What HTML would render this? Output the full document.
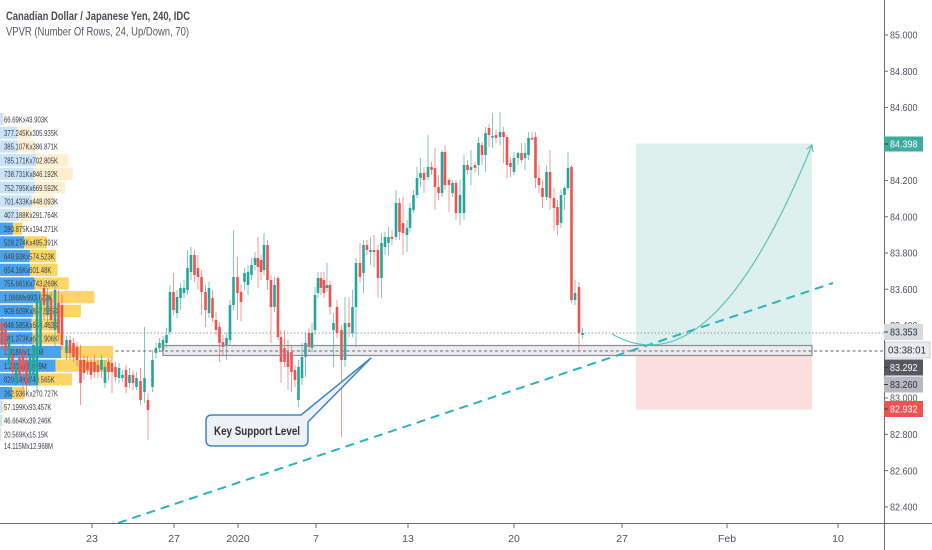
<!DOCTYPE html>
<html><head><meta charset="utf-8"><style>
html,body{margin:0;padding:0;background:#fff;overflow:hidden}
svg{display:block}
</style></head><body>
<svg width="932" height="550" viewBox="0 0 932 550" font-family="'Liberation Sans', sans-serif">
<rect width="932" height="550" fill="#fff"/>

<!-- position boxes -->
<rect x="636" y="143.5" width="176" height="202" fill="#ddf0ed"/>
<rect x="636" y="355.5" width="176" height="54" fill="#fbdedd"/>

<!-- price lines -->
<line x1="0" y1="333" x2="884" y2="333" stroke="#9598a1" stroke-width="1" stroke-dasharray="1.5,2"/>
<line x1="0" y1="351" x2="884" y2="351" stroke="#9598a1" stroke-width="1.5" stroke-dasharray="3,2.5"/>

<!-- volume profile bars -->
<g>
<rect x="0" y="113" width="3.05" height="12.2" fill="#c9e3f8"/><rect x="3.05" y="113" width="2.05" height="12.2" fill="#fef0cf"/>
<rect x="0" y="126.7" width="17.3" height="12.2" fill="#c9e3f8"/><rect x="17.3" y="126.7" width="14" height="12.2" fill="#fef0cf"/>
<rect x="0" y="140.4" width="17.6" height="12.2" fill="#c9e3f8"/><rect x="17.6" y="140.4" width="17.8" height="12.2" fill="#fef0cf"/>
<rect x="0" y="154.1" width="36" height="12.2" fill="#c9e3f8"/><rect x="36" y="154.1" width="32.1" height="12.2" fill="#fef0cf"/>
<rect x="0" y="167.8" width="33.8" height="12.2" fill="#c9e3f8"/><rect x="33.8" y="167.8" width="38.8" height="12.2" fill="#fef0cf"/>
<rect x="0" y="181.5" width="34.5" height="12.2" fill="#c9e3f8"/><rect x="34.5" y="181.5" width="30.6" height="12.2" fill="#fef0cf"/>
<rect x="0" y="195.2" width="32.1" height="12.2" fill="#c9e3f8"/><rect x="32.1" y="195.2" width="20.5" height="12.2" fill="#fef0cf"/>
<rect x="0" y="208.9" width="18.6" height="12.2" fill="#c9e3f8"/><rect x="18.6" y="208.9" width="13.4" height="12.2" fill="#fef0cf"/>
<rect x="0" y="222.6" width="12.9" height="12.2" fill="#4aa3ea"/><rect x="12.9" y="222.6" width="8.9" height="12.2" fill="#fdd567"/>
<rect x="0" y="236.3" width="24.2" height="12.2" fill="#4aa3ea"/><rect x="24.2" y="236.3" width="22.7" height="12.2" fill="#fdd567"/>
<rect x="0" y="250" width="29.8" height="12.2" fill="#4aa3ea"/><rect x="29.8" y="250" width="26.3" height="12.2" fill="#fdd567"/>
<rect x="0" y="263.7" width="30" height="12.2" fill="#4aa3ea"/><rect x="30" y="263.7" width="27.5" height="12.2" fill="#fdd567"/>
<rect x="0" y="277.4" width="34.6" height="12.2" fill="#4aa3ea"/><rect x="34.6" y="277.4" width="34.1" height="12.2" fill="#fdd567"/>
<rect x="0" y="291.1" width="40" height="12.2" fill="#4aa3ea"/><rect x="40" y="291.1" width="54.3" height="12.2" fill="#fdd567"/>
<rect x="0" y="304.8" width="33" height="12.2" fill="#4aa3ea"/><rect x="33" y="304.8" width="47.9" height="12.2" fill="#fdd567"/>
<rect x="0" y="318.5" width="31.5" height="12.2" fill="#4aa3ea"/><rect x="31.5" y="318.5" width="28.4" height="12.2" fill="#fdd567"/>
<rect x="0" y="332.2" width="32.5" height="12.2" fill="#4aa3ea"/><rect x="32.5" y="332.2" width="29.5" height="12.2" fill="#fdd567"/>
<rect x="0" y="345.9" width="61" height="12.2" fill="#4aa3ea"/><rect x="61" y="345.9" width="52" height="12.2" fill="#fdd567"/>
<rect x="0" y="359.6" width="55.5" height="12.2" fill="#4aa3ea"/><rect x="55.5" y="359.6" width="56" height="12.2" fill="#fdd567"/>
<rect x="0" y="373.3" width="37.6" height="12.2" fill="#4aa3ea"/><rect x="37.6" y="373.3" width="34.3" height="12.2" fill="#fdd567"/>
<rect x="0" y="387" width="12" height="12.2" fill="#4aa3ea"/><rect x="12" y="387" width="12.4" height="12.2" fill="#fdd567"/>
<rect x="0" y="400.7" width="2.6" height="12.2" fill="#c9e3f8"/><rect x="2.6" y="400.7" width="4.3" height="12.2" fill="#fef0cf"/>
<rect x="0" y="414.4" width="2.1" height="12.2" fill="#c9e3f8"/><rect x="2.1" y="414.4" width="1.8" height="12.2" fill="#fef0cf"/>
<rect x="0" y="428.1" width="0.9" height="12.2" fill="#c9e3f8"/><rect x="0.9" y="428.1" width="0.7" height="12.2" fill="#fef0cf"/>
</g>

<!-- volume profile labels -->
<g transform="scale(0.72 1)" font-size="8.3" fill="#3a3d46">
<text x="5.5" y="122.3">66.69Kx43.903K</text>
<text x="5.5" y="136">377.245Kx305.935K</text>
<text x="5.5" y="149.7">385.107Kx386.871K</text>
<text x="5.5" y="163.4">785.171Kx702.805K</text>
<text x="5.5" y="177.1">738.731Kx846.192K</text>
<text x="5.5" y="190.8">752.795Kx669.592K</text>
<text x="5.5" y="204.5">701.433Kx448.093K</text>
<text x="5.5" y="218.2">407.188Kx291.764K</text>
<text x="5.5" y="231.9">280.875Kx194.271K</text>
<text x="5.5" y="245.6">528.274Kx495.391K</text>
<text x="5.5" y="259.3">649.93Kx574.523K</text>
<text x="5.5" y="273">654.16Kx601.48K</text>
<text x="5.5" y="286.7">755.661Kx743.269K</text>
<text x="5.5" y="300.4">1.066Mx993.632K</text>
<text x="5.5" y="314.1">909.609Kx857.585K</text>
<text x="5.5" y="327.8">648.585Kx658.463K</text>
<text x="5.5" y="341.5">681.373Kx671.906K</text>
<text x="5.5" y="355.2">1.318Mx1.15M</text>
<text x="5.5" y="368.9">1.241Mx1.099M</text>
<text x="5.5" y="382.6">820.14Kx749.565K</text>
<text x="5.5" y="396.3">262.936Kx270.727K</text>
<text x="5.5" y="410">57.199Kx93.457K</text>
<text x="5.5" y="423.7">46.664Kx39.246K</text>
<text x="5.5" y="437.4">20.569Kx15.15K</text>
<text x="5.5" y="449">14.115Mx12.968M</text>
</g>

<!-- candles: wicks -->
<path stroke="#26a69a" stroke-opacity="0.6" stroke-width="1" fill="none" d="M9 335V368M16 360V386M30 350V386M33.5 340V380M37 293V393M40.5 292V355M47.5 288V325M55 285V347M66.5 336V360M101.5 355V378M105 360V388M119 363V383M122.5 370V382M129.5 368V388M136.5 372V390M144.5 327V403M152.5 350V392M156 343V358M159.5 338V352M163 336V355M166.5 328V348M170 285V335M177 290V318M180.5 283V310M184 280V298M187.5 250V295M191 247V280M209 282V318M226.5 333V360M230 300V345M233.5 230V310M244.5 268V290M248 265V295M251.5 258V280M255 252V270M264 233V275M274.5 277V312M298.5 360V407M302 343V385M305.5 333V377M312 323V352M315 287V335M318 272V298M327 263V292M333.5 313V367M345 297V367M352.5 290V337M356 258V347M363.5 240V293M370.5 237V265M381.5 233V298M385 232V255M388.5 227V255M396 190V240M407 220V252M410 203V232M413.5 190V213M417 167V198M420.5 158V187M428 135V180M442 150V197M452.5 180V197M460 180V225M464 155V220M471 150V185M478.5 137V175M485.5 127V172M492.5 113V148M500 112V145M514 152V175M518 152V165M525 143V170M528.5 132V160M546.5 165V200M561 190V228M564.5 186V210M568 152V190M575 280V305M582.5 328V339"/>
<path stroke="#ef5350" stroke-opacity="0.6" stroke-width="1" fill="none" d="M2 315V350M5.5 322V355M12.5 350V378M19.5 350V380M23 345V390M26.5 352V392M44 282V320M51 292V330M58.5 290V340M62 295V350M70 336V360M73.5 338V362M77 342V366M80.5 345V405M84 355V380M87.5 356V375M91 358V380M94.5 355V378M98 360V378M108.5 358V380M112 357V393M115.5 362V382M126 365V393M133 370V390M140.5 368V405M148 393V440M173.5 273V315M194.5 250V282M198 255V290M201.5 270V315M205.5 285V327M212.5 290V322M216 312V335M219.5 322V362M223 335V355M237.5 257V320M241 285V321M258 237V288M261 255V280M267.5 240V290M271 275V343M278 276V340M281 330V383M284.5 330V367M288 340V390M291.5 345V392M295 365V387M309 328V352M321 272V295M324 272V298M330 281V315M337 300V338M341.5 325V437M349 297V337M360 243V283M367 240V255M374 235V267M378 245V298M392 230V245M399.5 198V240M403 197V255M424 167V193M431.5 162V175M435 148V210M438.5 175V200M445 145V190M449 178V212M456 180V220M467.5 160V175M475 162V173M482 142V165M489 124V147M496 130V143M503.5 127V163M507 135V178M510.5 157V177M521.5 143V163M532 132V140M535.5 132V188M539 165V193M542.5 180V208M550 150V210M554 188V230M557.5 200V235M571.5 165V303M579 282V350"/>

<!-- candles: bodies -->
<path fill="#26a69a" d="M7.7 340h2.6v25h-2.6zM14.7 365h2.6v17h-2.6zM28.7 355h2.6v25h-2.6zM32.2 345h2.6v30h-2.6zM35.7 300h2.6v85h-2.6zM39.2 300h2.6v50h-2.6zM46.2 295h2.6v20h-2.6zM53.7 290h2.6v40h-2.6zM65.2 340h2.6v13h-2.6zM100.2 360h2.6v10h-2.6zM103.7 367h2.6v16h-2.6zM117.7 368h2.6v10h-2.6zM121.2 375h2.6v3h-2.6zM128.2 375h2.6v8h-2.6zM135.2 378h2.6v9h-2.6zM143.2 378h2.6v14h-2.6zM151.2 360h2.6v27h-2.6zM154.7 348h2.6v5h-2.6zM158.2 343h2.6v5h-2.6zM161.7 340h2.6v10h-2.6zM165.2 335h2.6v8h-2.6zM168.7 292h2.6v40h-2.6zM175.7 297h2.6v16h-2.6zM179.2 288h2.6v10h-2.6zM182.7 288h2.6v5h-2.6zM186.2 268h2.6v22h-2.6zM189.7 255h2.6v17h-2.6zM207.7 288h2.6v25h-2.6zM225.2 338h2.6v8h-2.6zM228.7 305h2.6v35h-2.6zM232.2 277h2.6v28h-2.6zM243.2 273h2.6v9h-2.6zM246.7 272h2.6v13h-2.6zM250.2 265h2.6v10h-2.6zM253.7 258h2.6v7h-2.6zM262.7 245h2.6v25h-2.6zM273.2 285h2.6v22h-2.6zM297.2 367h2.6v33h-2.6zM300.7 357h2.6v21h-2.6zM304.2 343h2.6v14h-2.6zM310.7 333h2.6v15h-2.6zM313.7 295h2.6v35h-2.6zM316.7 278h2.6v15h-2.6zM325.7 285h2.6v3h-2.6zM332.2 323h2.6v7h-2.6zM343.7 323h2.6v37h-2.6zM351.2 307h2.6v26h-2.6zM354.7 263h2.6v44h-2.6zM362.2 245h2.6v28h-2.6zM369.2 250h2.6v2h-2.6zM380.2 243h2.6v35h-2.6zM383.7 237h2.6v10h-2.6zM387.2 237h2.6v6h-2.6zM394.7 203h2.6v34h-2.6zM405.7 228h2.6v7h-2.6zM408.7 208h2.6v20h-2.6zM412.2 195h2.6v15h-2.6zM415.7 178h2.6v17h-2.6zM419.2 173h2.6v5h-2.6zM426.7 167h2.6v10h-2.6zM440.7 152h2.6v41h-2.6zM451.2 183h2.6v10h-2.6zM458.7 195h2.6v18h-2.6zM462.7 165h2.6v48h-2.6zM469.7 167h2.6v3h-2.6zM477.2 143h2.6v22h-2.6zM484.2 133h2.6v22h-2.6zM491.2 136h2.6v1.5h-2.6zM498.7 132h2.6v5h-2.6zM512.7 158h2.6v14h-2.6zM516.7 153h2.6v5h-2.6zM523.7 153h2.6v5h-2.6zM527.2 138h2.6v17h-2.6zM545.2 172h2.6v25h-2.6zM559.7 195h2.6v28h-2.6zM563.2 188h2.6v7h-2.6zM566.7 168h2.6v20h-2.6zM573.7 293h2.6v7h-2.6zM581.2 333h2.6v2h-2.6z"/>
<path fill="#ef5350" d="M0.7 323h2.6v22h-2.6zM4.2 330h2.6v20h-2.6zM11.2 355h2.6v17h-2.6zM18.2 357h2.6v18h-2.6zM21.7 353h2.6v19h-2.6zM25.2 360h2.6v25h-2.6zM42.7 288h2.6v17h-2.6zM49.7 298h2.6v22h-2.6zM57.2 303h2.6v30h-2.6zM60.7 305h2.6v40h-2.6zM68.7 340h2.6v13h-2.6zM72.2 343h2.6v14h-2.6zM75.7 347h2.6v13h-2.6zM79.2 360h2.6v23h-2.6zM82.7 360h2.6v13h-2.6zM86.2 362h2.6v8h-2.6zM89.7 362h2.6v13h-2.6zM93.2 362h2.6v10h-2.6zM96.7 365h2.6v7h-2.6zM107.2 362h2.6v10h-2.6zM110.7 363h2.6v9h-2.6zM114.2 367h2.6v10h-2.6zM124.7 370h2.6v17h-2.6zM131.7 375h2.6v8h-2.6zM139.2 381h2.6v19h-2.6zM146.7 400h2.6v10h-2.6zM172.2 292h2.6v18h-2.6zM193.2 255h2.6v20h-2.6zM196.7 268h2.6v9h-2.6zM200.2 277h2.6v15h-2.6zM204.2 292h2.6v18h-2.6zM211.2 298h2.6v20h-2.6zM214.7 320h2.6v10h-2.6zM218.2 327h2.6v16h-2.6zM221.7 342h2.6v5h-2.6zM236.2 277h2.6v16h-2.6zM239.7 292h2.6v10h-2.6zM256.7 258h2.6v9h-2.6zM259.7 260h2.6v12h-2.6zM266.2 245h2.6v35h-2.6zM269.7 280h2.6v27h-2.6zM276.7 278h2.6v59h-2.6zM279.7 337h2.6v25h-2.6zM283.2 348h2.6v14h-2.6zM286.7 352h2.6v15h-2.6zM290.2 352h2.6v20h-2.6zM293.7 370h2.6v10h-2.6zM307.7 333h2.6v14h-2.6zM319.7 278h2.6v10h-2.6zM322.7 280h2.6v13h-2.6zM328.7 285h2.6v22h-2.6zM335.7 307h2.6v26h-2.6zM340.2 330h2.6v30h-2.6zM347.7 323h2.6v4h-2.6zM358.7 263h2.6v14h-2.6zM365.7 245h2.6v5h-2.6zM372.7 250h2.6v2h-2.6zM376.7 250h2.6v28h-2.6zM390.7 237h2.6v2h-2.6zM398.2 203h2.6v29h-2.6zM401.7 223h2.6v10h-2.6zM422.7 173h2.6v7h-2.6zM430.2 167h2.6v3h-2.6zM433.7 168h2.6v19h-2.6zM437.2 187h2.6v6h-2.6zM443.7 152h2.6v33h-2.6zM447.7 180h2.6v5h-2.6zM454.7 183h2.6v30h-2.6zM466.2 165h2.6v5h-2.6zM473.7 165h2.6v3h-2.6zM480.7 145h2.6v10h-2.6zM487.7 128h2.6v7h-2.6zM494.7 135h2.6v3h-2.6zM502.2 132h2.6v5h-2.6zM505.7 137h2.6v28h-2.6zM509.2 163h2.6v4h-2.6zM520.2 153h2.6v7h-2.6zM530.7 138h2.6v1.5h-2.6zM534.2 137h2.6v41h-2.6zM537.7 178h2.6v7h-2.6zM541.2 188h2.6v9h-2.6zM548.7 172h2.6v26h-2.6zM552.7 198h2.6v10h-2.6zM556.2 207h2.6v18h-2.6zM570.2 167h2.6v133h-2.6zM577.7 287h2.6v46h-2.6z"/>

<!-- support zone -->
<rect x="163" y="345.5" width="649" height="10" fill="#9598a1" fill-opacity="0.18" stroke="#8a8d96" stroke-width="1.2"/>

<!-- trend line -->
<line x1="118" y1="523" x2="833" y2="283" stroke="#2bb3c0" stroke-width="2" stroke-dasharray="9,6"/>

<!-- projection curve -->
<path d="M612 334 Q712 392 812 145" fill="none" stroke="#5cc2b6" stroke-width="1.2"/>
<path d="M806.5 149.3 L812 145 L813 151.9" fill="none" stroke="#5cc2b6" stroke-width="1.2"/>

<!-- callout -->
<path d="M212 415 H301 L371 358 L308 422 V440 Q308 446 302 446 H212 Q206 446 206 440 V421 Q206 415 212 415 Z" fill="#eef1f6" stroke="#3f86c8" stroke-width="1.5" stroke-linejoin="round"/>
<text x="214" y="435" font-size="11.5" font-weight="bold" fill="#2f3136" textLength="86" lengthAdjust="spacingAndGlyphs">Key Support Level</text>

<!-- title -->
<text x="6" y="20" font-size="12" font-weight="bold" fill="#4a4c52" textLength="184" lengthAdjust="spacingAndGlyphs">Canadian Dollar / Japanese Yen, 240, IDC</text>
<text x="6" y="35.5" font-size="12" fill="#555861" textLength="183" lengthAdjust="spacingAndGlyphs">VPVR (Number Of Rows, 24, Up/Down, 70)</text>

<!-- axes -->
<rect x="884" y="0" width="48" height="550" fill="#fff"/>
<rect x="0" y="523.5" width="932" height="26.5" fill="#fff"/>
<line x1="0" y1="523.5" x2="932" y2="523.5" stroke="#6a6d78" stroke-width="1"/>
<line x1="884.5" y1="0" x2="884.5" y2="550" stroke="#6a6d78" stroke-width="1"/>

<!-- price ticks & labels -->
<g stroke="#6a6d78" stroke-width="1">
<path d="M884 35H888M884 71.3H888M884 107.5H888M884 180.5H888M884 216.7H888M884 253H888M884 289.3H888M884 325.5H888M884 398H888M884 434.4H888M884 470.6H888M884 506.9H888"/>
</g>
<g font-size="10.5" fill="#50535e">
<text x="890" y="38.7" textLength="27.5" lengthAdjust="spacingAndGlyphs">85.000</text>
<text x="890" y="75" textLength="27.5" lengthAdjust="spacingAndGlyphs">84.800</text>
<text x="890" y="111.2" textLength="27.5" lengthAdjust="spacingAndGlyphs">84.600</text>
<text x="890" y="184.2" textLength="27.5" lengthAdjust="spacingAndGlyphs">84.200</text>
<text x="890" y="220.4" textLength="27.5" lengthAdjust="spacingAndGlyphs">84.000</text>
<text x="890" y="256.7" textLength="27.5" lengthAdjust="spacingAndGlyphs">83.800</text>
<text x="890" y="293" textLength="27.5" lengthAdjust="spacingAndGlyphs">83.600</text>
<text x="890" y="329.2" textLength="27.5" lengthAdjust="spacingAndGlyphs">83.400</text>
<text x="890" y="401.7" textLength="27.5" lengthAdjust="spacingAndGlyphs">83.000</text>
<text x="890" y="438.1" textLength="27.5" lengthAdjust="spacingAndGlyphs">82.800</text>
<text x="890" y="474.3" textLength="27.5" lengthAdjust="spacingAndGlyphs">82.600</text>
<text x="890" y="510.6" textLength="27.5" lengthAdjust="spacingAndGlyphs">82.400</text>
</g>

<!-- price label boxes -->
<rect x="884" y="136.5" width="39" height="15" fill="#3dab9e"/>
<text x="890" y="147.7" font-size="10.5" fill="#fff" textLength="27.5" lengthAdjust="spacingAndGlyphs">84.398</text>

<rect x="884" y="324" width="39" height="16" fill="#d6dae1"/>
<text x="890" y="335.7" font-size="10.5" fill="#2a2e39" textLength="27.5" lengthAdjust="spacingAndGlyphs">83.353</text>

<rect x="885.5" y="342" width="44.5" height="16" fill="#e9ebef" stroke="#c9ccd3" stroke-width="1"/>
<text x="888" y="353.7" font-size="10.5" fill="#2a2e39" textLength="38" lengthAdjust="spacingAndGlyphs">03:38:01</text>

<rect x="884" y="359.5" width="39" height="16" fill="#55585f"/>
<text x="890" y="371.2" font-size="10.5" fill="#fff" textLength="27.5" lengthAdjust="spacingAndGlyphs">83.292</text>

<rect x="884" y="376.5" width="39" height="16" fill="#b6b9c0"/>
<text x="890" y="388.2" font-size="10.5" fill="#2a2e39" textLength="27.5" lengthAdjust="spacingAndGlyphs">83.260</text>

<rect x="884" y="401" width="39" height="16" fill="#ef5350"/>
<text x="890" y="412.7" font-size="10.5" fill="#fff" textLength="27.5" lengthAdjust="spacingAndGlyphs">82.932</text>

<path d="M884 144H888M884 332H888M884 367.5H888M884 384.5H888M884 409H888" stroke="#3a3d46" stroke-width="1"/>

<!-- time ticks & labels -->
<path d="M92 524V528M174 524V528M238 524V528M316 524V528M408 524V528M514 524V528M622 524V528M727 524V528M838 524V528" stroke="#6a6d78" stroke-width="1"/>
<g font-size="10.5" fill="#50535e" text-anchor="middle">
<text x="92" y="542">23</text>
<text x="174" y="542">27</text>
<text x="238" y="542">2020</text>
<text x="316" y="542">7</text>
<text x="408" y="542">13</text>
<text x="514" y="542">20</text>
<text x="622" y="542">27</text>
<text x="727" y="542">Feb</text>
<text x="838" y="542">10</text>
</g>
</svg>
</body></html>
